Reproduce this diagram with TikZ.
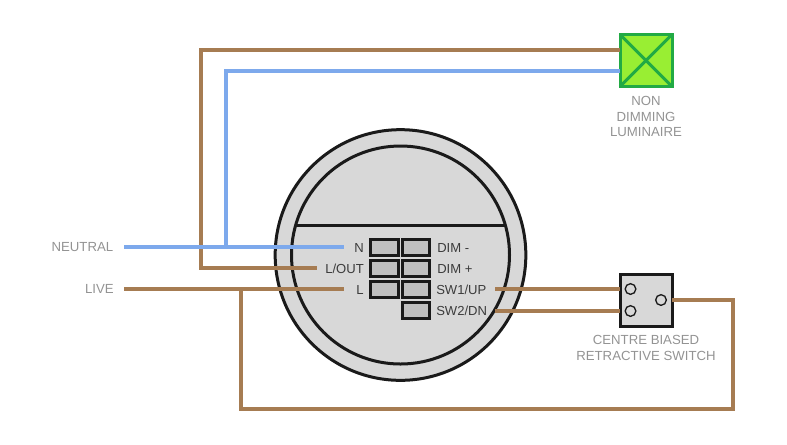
\documentclass[tikz,border=0pt]{standalone}
\usepackage{fontspec}
\setmainfont{Liberation Sans}
\definecolor{wirebrown}{HTML}{A67C52}
\definecolor{wireblue}{HTML}{7DA9EC}
\definecolor{lampgreen}{HTML}{99EE33}
\definecolor{lampedge}{HTML}{22AA44}
\definecolor{edgeblack}{HTML}{1A1A1A}
\definecolor{bodygrey}{HTML}{D8D8D8}
\definecolor{termgrey}{HTML}{C0C0C0}
\definecolor{labelgrey}{HTML}{939393}
\tikzset{
	brownwire/.style={draw=wirebrown,line width=2.7pt,line join=miter},
	bluewire/.style={draw=wireblue,line width=2.7pt,line join=miter},
	ring/.style={circle,draw=edgeblack,line width=2.25pt,inner sep=0pt,outer sep=0pt},
	terminal/.style={rectangle,draw=edgeblack,fill=termgrey,line width=2.25pt,minimum width=20.5pt,minimum height=12.2pt,inner sep=0pt,outer sep=0pt},
	contact/.style={circle,draw=edgeblack,line width=1pt,minimum size=8pt,inner sep=0pt,outer sep=0pt},
	unitbox/.style={rectangle,line width=2.25pt,minimum size=39pt,inner sep=0pt,outer sep=0pt},
	termlabel/.style={text=edgeblack!85,font=\fontsize{9.8}{11}\selectfont,inner sep=0pt},
	outlabel/.style={text=labelgrey,font=\fontsize{9.9}{11.5}\selectfont,inner sep=0pt,align=center}
}
\begin{document}
\begin{tikzpicture}[x=0.75pt,y=-0.75pt]
	
	\useasboundingbox (0,0) rectangle (787,444);
	
	\node[ring,fill=bodygrey,minimum size=188pt] (body) at (400.5,255) {};
	
	\node[ring,minimum size=163.5pt] (dial) at (400.5,255) {};
	
	\coordinate (chordl) at (297,225);
	\coordinate (chordr) at (504,225);
	
	\draw[draw=edgeblack,line width=2.25pt] (chordl) -- (chordr);
	
	\node[terminal] (ta) at (384.5,247.5) {};
	\node[terminal] (tb) at (384.5,268.5) {};
	\node[terminal] (tc) at (384.5,289.5) {};
	\node[terminal] (td) at (416,247.5) {};
	\node[terminal] (te) at (416,268.5) {};
	\node[terminal] (tf) at (416,289.5) {};
	\node[terminal] (tg) at (416,310.5) {};
	
	\node[termlabel,anchor=east] (ln) at (364,247.5) {N};
	\node[termlabel,anchor=east] (lout) at (364,268.5) {L/OUT};
	\node[termlabel,anchor=east] (ll) at (364,289.5) {L};
	\node[termlabel,anchor=west] (ldimm) at (437,247.5) {DIM -};
	\node[termlabel,anchor=west] (ldimp) at (437,268.5) {DIM +};
	\node[termlabel,anchor=west] (lup) at (436,289.5) {SW1/UP};
	\node[termlabel,anchor=west] (ldn) at (436,310.5) {SW2/DN};
	
	\node[unitbox,draw=lampedge,fill=lampgreen] (lamp) at (646,60.5) {};
	
	\node[unitbox,draw=edgeblack,fill=bodygrey] (switch) at (646,300) {};
	
	\node[contact] (ca) at (630.5,289) {};
	\node[contact] (cb) at (630.5,311) {};
	\node[contact] (cc) at (661,300) {};
	
	\node[outlabel] (lamplabel) at (646,116.5) {NON\\DIMMING\\LUMINAIRE};
	\node[outlabel] (switchlabel) at (646,348) {CENTRE BIASED\\RETRACTIVE SWITCH};
	\node[outlabel,anchor=east] (neutral) at (113.5,247) {NEUTRAL};
	\node[outlabel,anchor=east] (live) at (114,289) {LIVE};
	
	\coordinate (nstart) at (124,247);
	\coordinate (nend) at (344,247);
	\coordinate (nbranch) at (226,247);
	\coordinate (ntop) at (226,71);
	\coordinate (ltop) at (201,50);
	\coordinate (lbot) at (201,268);
	\coordinate (lend) at (317,268);
	\coordinate (lstart) at (124,289);
	\coordinate (liveend) at (344,289);
	\coordinate (lbranch) at (241,289);
	\coordinate (loopa) at (241,409);
	\coordinate (loopb) at (733,409);
	\coordinate (loopc) at (733,300);
	\coordinate (upstart) at (495,289);
	\coordinate (dnstart) at (495,311);
	
	\draw[brownwire] (lamp.west |- ltop) -- (ltop) -- (lbot) -- (lend);
	\draw[bluewire] (lamp.west |- ntop) -- (ntop) -- (nbranch);
	\draw[bluewire] (nstart) -- (nend);
	\draw[brownwire] (lstart) -- (liveend);
	\draw[brownwire] (lbranch) -- (loopa) -- (loopb) -- (loopc) -- (switch.east |- loopc);
	\draw[brownwire,line width=2.5pt] (upstart) -- (switch.west |- ca);
	\draw[brownwire,line width=2.5pt] (dnstart) -- (switch.west |- cb);
	
	\draw[draw=lampedge,line width=2.25pt] (lamp.north west) -- (lamp.south east);
	\draw[draw=lampedge,line width=2.25pt] (lamp.north east) -- (lamp.south west);
	
\end{tikzpicture}
\end{document}
